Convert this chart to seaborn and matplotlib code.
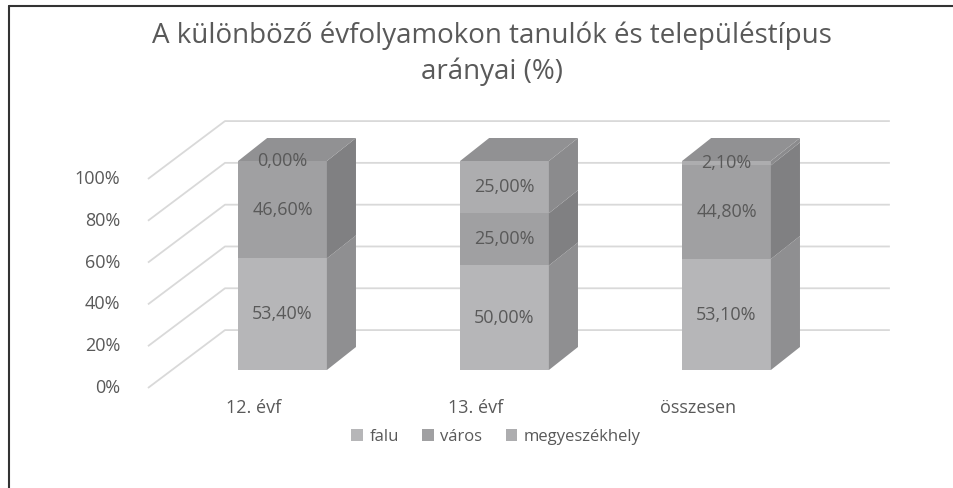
import matplotlib.pyplot as plt
from matplotlib.lines import Line2D
from matplotlib.patches import Patch
import numpy as np
import pandas as pd
import seaborn as sns

# adatok
categories = ["12. évf", "13. évf", "összesen"]
falu = [53.4, 50.0, 53.1]
varos = [46.6, 25.0, 44.8]
megyeszekhely = [0.0, 25.0, 2.1]
series_names = ["falu", "város", "megyeszékhely"]
yticks = [0, 20, 40, 60, 80, 100]
title = "A különböző évfolyamokon tanulók és településtípus\narányai (%)"

sns.set_style("white")
plt.rcParams['font.family'] = ['Open Sans', 'DejaVu Sans']

front_cols = ["#b6b6b8", "#a0a0a2", "#adadaf"]
side_cols = ["#8f8f91", "#808082", "#8b8b8d"]
top_col = "#919193"
grid_col = "#d9d9d9"
txt_col = "#595959"

bar_w = 0.4
dx, dy = 0.131, 11.0            # oszlop mélysége
floor_x, floor_dy = -0.606, -8.6  # padló eleje
wall_x0, wall_x1, wall_dy = -0.259, 2.736, 19.1  # hátsó fal

df = pd.DataFrame({"cat": categories, "falu": falu, "varos": varos, "megy": megyeszekhely})
vals = df[["falu", "varos", "megy"]].to_numpy()
cum = np.cumsum(vals, axis=1)
for j, c in enumerate(["c_falu", "c_varos", "c_megy"]):
    df[c] = cum[:, j]

fig = plt.figure(figsize=(9.54, 4.88), dpi=100)
ax = fig.add_axes([0, 0, 1, 1])

# elülső lapok (fedő rajzolás felülről lefelé)
for c, col in zip(["c_megy", "c_varos", "c_falu"], front_cols[::-1]):
    sns.barplot(data=df, x="cat", y=c, color=col, width=bar_w, saturation=1,
                linewidth=0, ax=ax, zorder=3)

# rácsvonalak a hátsó falon
for t in yticks:
    ax.plot([floor_x, wall_x0, wall_x1], [t + floor_dy, t + wall_dy, t + wall_dy],
            color=grid_col, lw=1.3, zorder=1, solid_capstyle="butt")
    ax.text(-0.73, t + floor_dy, f"{t}%", ha="right", va="center", fontsize=13, color=txt_col)

# oldal- és tetőlapok, címkék
for i in range(len(categories)):
    xl, xr = i - bar_w / 2, i + bar_w / 2
    bottom = 0
    for j in range(3):
        top = cum[i, j]
        if vals[i, j] > 0:
            ax.fill([xr, xr + dx, xr + dx, xr], [bottom, bottom + dy, top + dy, top],
                    color=side_cols[j], lw=0, zorder=3)
        lab = f"{vals[i, j]:.2f}%".replace(".", ",")
        ax.text(i, (bottom + top) / 2, lab, ha="center", va="center", fontsize=13,
                color=txt_col, zorder=4)
        bottom = top
    ax.fill([xl, xl + dx, xr + dx, xr], [cum[i, -1], cum[i, -1] + dy, cum[i, -1] + dy, cum[i, -1]],
            color=top_col, lw=0, zorder=3)
    ax.text(i - 0.13, -18.2, categories[i], ha="center", va="center", fontsize=13, color=txt_col)

ax.set_xlim(-1.2725, 3.0248)
ax.set_ylim(-56.46, 177.03)
ax.axis("off")

fig.text(0.5157, 1 - 54 / 488, title, ha="center", va="center", fontsize=20,
         color=txt_col, linespacing=1.35)

handles = [Patch(color=c, lw=0) for c in front_cols]
fig.legend(handles, series_names, loc="center", bbox_to_anchor=(0.52, 1 - 437 / 488), ncol=3,
           frameon=False, fontsize=12, handlelength=0.7, handleheight=0.7,
           handletextpad=0.4, columnspacing=1.4, labelcolor=txt_col)

# keret (bal és felső)
fig.add_artist(Line2D([9 / 954, 9 / 954], [0, 1 - 6 / 488], color="#333333", lw=1.5))
fig.add_artist(Line2D([9 / 954, 1], [1 - 6 / 488, 1 - 6 / 488], color="#333333", lw=1.5))

fig.savefig("out.png", dpi=100)
